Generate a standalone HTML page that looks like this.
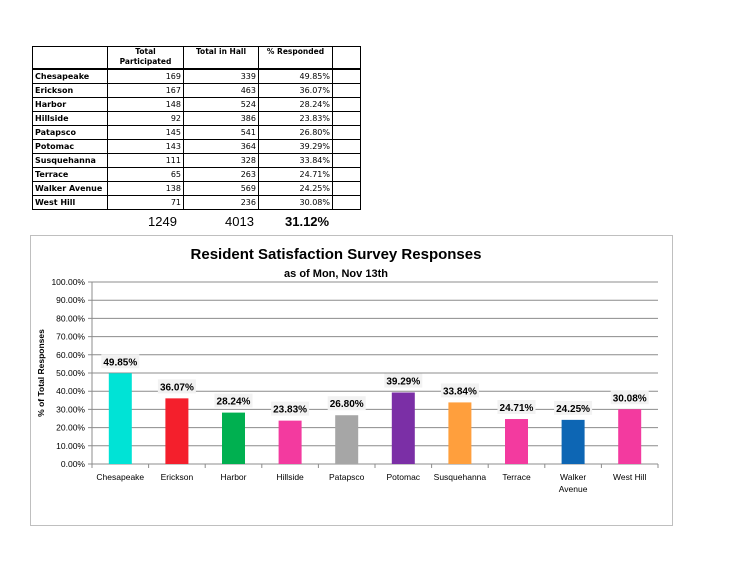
<!DOCTYPE html>
<html><head><meta charset="utf-8"><style>
body{margin:0;width:740px;height:566px;background:#fff;position:relative;font-family:"Liberation Sans",Verdana,sans-serif;overflow:hidden}
table{position:absolute;left:32px;top:46px;border-collapse:collapse;table-layout:fixed;width:328px;font-size:8px;font-family:"DejaVu Sans",sans-serif}
td{border:1px solid #000;padding:0 2px;height:13px;line-height:13px;white-space:nowrap;overflow:hidden}
td.n{text-align:right}
td.h{font-weight:bold}
th{border:1px solid #000;border-bottom:2px solid #000;font-size:7.5px;vertical-align:top;height:21px;line-height:10px;padding:0;white-space:nowrap}
.tot{position:absolute;top:214px;font-size:13px}
</style></head><body>
<table>
<colgroup><col style="width:75px"><col style="width:76px"><col style="width:75px"><col style="width:74px"><col style="width:28px"></colgroup>
<tr><th></th><th>Total<br>Participated</th><th>Total in Hall</th><th>% Responded</th><th></th></tr>
<tbody id="tb"></tbody>
</table>
<div class="tot" style="left:148px">1249</div>
<div class="tot" style="left:225px">4013</div>
<div class="tot" style="left:285px;font-weight:bold">31.12%</div>
<svg id="ch" width="740" height="566" style="position:absolute;left:0;top:0"></svg>
<script>
const halls=["Chesapeake","Erickson","Harbor","Hillside","Patapsco","Potomac","Susquehanna","Terrace","Walker Avenue","West Hill"];
const participated=[169,167,148,92,145,143,111,65,138,71];
const inHall=[339,463,524,386,541,364,328,263,569,236];
const pct=[49.85,36.07,28.24,23.83,26.80,39.29,33.84,24.71,24.25,30.08];
const colors=["#00e3d6","#f41f2c","#00b050","#f33a9f","#a6a6a6","#7b2fa6","#ff9f3d","#f33a9f","#0d66b4","#f33a9f"];
const ticks=[0,10,20,30,40,50,60,70,80,90,100];
const tb=document.getElementById('tb');
halls.forEach((h,i)=>{
 const tr=document.createElement('tr');
 
 
 tr.innerHTML='<td class="h">'+h+'</td><td class="n">'+participated[i]+'</td><td class="n">'+inHall[i]+'</td><td class="n">'+pct[i].toFixed(2)+'%</td><td></td>';
 tb.appendChild(tr);
});
const NS="http://www.w3.org/2000/svg",s=document.getElementById('ch');
function el(t,a,txt){const e=document.createElementNS(NS,t);for(const k in a)e.setAttribute(k,a[k]);if(txt!=null)e.textContent=txt;s.appendChild(e);return e;}
const X0=92,X1=658,Y0=464,Y1=282;
const y=v=>Y0-(v/100)*(Y0-Y1);
const cw=(X1-X0)/halls.length;
const xc=i=>X0+cw*(i+0.5);
let e=el('rect',{x:30.5,y:235.5,width:642,height:290,fill:'#fff',stroke:'#bfbfbf'});

e=el('text',{x:336,y:259,'text-anchor':'middle','font-size':15,'font-weight':'bold',fill:'#000','font-family':'Liberation Sans,sans-serif'},'Resident Satisfaction Survey Responses');

e=el('text',{x:336,y:277,'text-anchor':'middle','font-size':11,'font-weight':'bold',fill:'#000'},'as of Mon, Nov 13th');

ticks.forEach(t=>{
 e=el('line',{x1:X0-4,x2:X1,y1:y(t),y2:y(t),stroke:'#8c8c8c','stroke-width':1});
 
 e=el('text',{x:X0-7,y:y(t)+3,'text-anchor':'end','font-size':8.5,fill:'#000'},t.toFixed(2)+'%');
 
});
e=el('line',{x1:X0,x2:X0,y1:Y1,y2:Y0,stroke:'#8c8c8c'});

e=el('text',{x:0,y:0,transform:'translate(44,373) rotate(-90)','text-anchor':'middle','font-size':8.5,'font-weight':'bold'},'% of Total Responses');

for(let i=0;i<=halls.length;i++){e=el('line',{x1:X0+cw*i,x2:X0+cw*i,y1:Y0,y2:Y0+4,stroke:'#8c8c8c'});
 }
halls.forEach((h,i)=>{
 const bw=23,top=y(pct[i]);
 e=el('rect',{x:xc(i)-bw/2,y:top,width:bw,height:Y0-top,fill:colors[i]});
 
 e=el('rect',{x:xc(i)-19,y:top-19,width:38,height:14,fill:'#f2f2f2'});
 
 e=el('text',{x:xc(i),y:top-8,'text-anchor':'middle','font-size':10,'font-weight':'bold'},pct[i].toFixed(2)+'%');
 
 const parts=h==="Walker Avenue"?["Walker","Avenue"]:[h];
 parts.forEach((p,j)=>{e=el('text',{x:xc(i),y:Y0+16+j*12,'text-anchor':'middle','font-size':8.5},p);
  });
});
</script>
</body></html>
